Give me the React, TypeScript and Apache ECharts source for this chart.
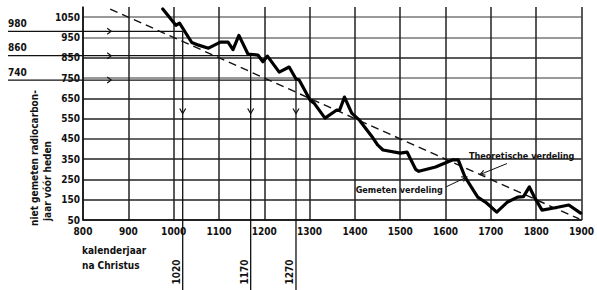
import React, { useEffect, useRef } from "react";
import * as echarts from "echarts";

// ---- data ----
const measuredYears = [976, 1005, 1013, 1040, 1055, 1077, 1103, 1120, 1131, 1144, 1164, 1186, 1197, 1207, 1233, 1255, 1270, 1277, 1301, 1310, 1334, 1360, 1366, 1377, 1393, 1410, 1440, 1450, 1462, 1500, 1515, 1534, 1541, 1578, 1615, 1628, 1643, 1671, 1690, 1713, 1737, 1759, 1772, 1785, 1796, 1813, 1839, 1872, 1898];
const measuredValues = [1090, 1010, 1020, 925, 912, 897, 927, 927, 890, 960, 868, 863, 830, 858, 779, 804, 745, 740, 641, 626, 552, 592, 590, 656, 577, 542, 454, 420, 395, 380, 385, 300, 290, 311, 346, 346, 262, 163, 135, 89, 139, 163, 165, 213, 163, 99, 109, 124, 84];

const theoreticalYears = [860, 1895];
const theoreticalValues = [1090, 55];

const refValues = [980, 860, 740];
const refYears = [1020, 1170, 1270];
const refValueLabels = ["980", "860", "740"];
const refYearLabels = ["1020", "1170", "1270"];

const yTitleLines = ["niet gemeten radiocarbon-", "jaar vóór heden"];
const xTitleLines = ["kalenderjaar", "na Christus"];
const theoryLabel = "Theoretische verdeling";
const measuredLabel = "Gemeten verdeling";
// points where annotation arrows touch the lines
const theoryArrowTip = [1676, 274];
const measuredArrowTip = [1647, 262];

const FONT = '"Liberation Sans Narrow", "DejaVu Sans Condensed", "Arial Narrow", sans-serif';
const INK = "#111";

export default function App() {
  const ref = useRef<HTMLDivElement>(null);

  useEffect(() => {
    const chart = echarts.init(ref.current!, null, { renderer: "svg" });
    const measured = measuredYears.map((y, i) => [y, measuredValues[i]]);
    const theoretical = theoreticalYears.map((y, i) => [y, theoreticalValues[i]]);

    chart.setOption({
      animation: false,
      backgroundColor: "#fff",
      grid: { left: 83, right: 9, top: 7, bottom: 70 },
      xAxis: {
        type: "value",
        min: 800,
        max: 1900,
        interval: 100,
        axisLine: { show: true, onZero: false, lineStyle: { color: INK, width: 1.5 } },
        axisTick: { show: false },
        axisLabel: {
          color: INK,
          fontFamily: FONT,
          fontWeight: "bold",
          fontSize: 10,
          margin: 6,
          formatter: (v: number) => String(v),
        },
        splitLine: { show: true, lineStyle: { color: "#222", width: 1.5 } },
      },
      yAxis: {
        type: "value",
        min: 50,
        max: 1100,
        interval: 100,
        axisLine: { show: true, lineStyle: { color: INK, width: 1.5 } },
        axisTick: { show: false },
        axisLabel: {
          color: INK,
          fontFamily: FONT,
          fontWeight: "bold",
          fontSize: 10,
          margin: 3,
          formatter: (v: number) => (v > 1050 ? "" : String(v)),
        },
        splitLine: {
          show: true,
          showMaxLine: false,
          lineStyle: {
            color: ["#222", "#222", "#222", "#222", "#333", "#222", "#222", "#777", "#222", "#777", "#777", "#fff"],
            width: 1.5,
          },
        },
      },
      series: [
        {
          type: "line",
          data: theoretical,
          symbol: "none",
          clip: false,
          silent: true,
          lineStyle: { color: INK, width: 1.4, type: [8, 5] },
          z: 3,
        },
        {
          type: "line",
          data: measured,
          symbol: "none",
          clip: false,
          silent: true,
          lineStyle: { color: "#000", width: 3.2, join: "round", cap: "round" },
          z: 4,
        },
      ],
    });

    const px = (x: number, y: number) => chart.convertToPixel({ gridIndex: 0 }, [x, y]) as number[];
    const g: any[] = [];
    const lineStyle = { stroke: INK, lineWidth: 1.3 };
    const arrowX = px(860, 50)[0];
    const arrowYDown = px(800, 580)[1];

    refValues.forEach((v, i) => {
      const p = px(refYears[i], v);
      g.push({ type: "line", shape: { x1: 8, y1: p[1], x2: p[0], y2: p[1] }, style: lineStyle, z: 2 });
      g.push({ type: "line", shape: { x1: p[0], y1: p[1], x2: p[0], y2: 295 }, style: lineStyle, z: 2 });
      g.push({
        type: "polyline",
        shape: { points: [[arrowX - 3, p[1] - 3], [arrowX + 1, p[1]], [arrowX - 3, p[1] + 3]] },
        style: { stroke: INK, lineWidth: 1.2, fill: "none" },
        z: 5,
      });
      g.push({
        type: "polyline",
        shape: { points: [[p[0] - 3, arrowYDown - 4], [p[0], arrowYDown + 1], [p[0] + 3, arrowYDown - 4]] },
        style: { stroke: INK, lineWidth: 1.2, fill: "none" },
        z: 5,
      });
      g.push({
        type: "text",
        x: 8,
        y: p[1] - 3,
        style: { text: refValueLabels[i], fill: INK, font: `bold 10px ${FONT}`, textAlign: "left", textVerticalAlign: "bottom" },
        z: 5,
      });
      g.push({
        type: "text",
        x: p[0] - 6,
        y: 272,
        rotation: Math.PI / 2,
        style: { text: refYearLabels[i], fill: INK, font: `bold 10px ${FONT}`, textAlign: "center", textVerticalAlign: "middle" },
        z: 5,
      });
    });

    // axis titles
    g.push({
      type: "text", x: 34, y: 158, rotation: Math.PI / 2,
      style: { text: yTitleLines[0], fill: INK, font: `bold 10px ${FONT}`, textAlign: "center", textVerticalAlign: "middle" },
    });
    g.push({
      type: "text", x: 47, y: 181, rotation: Math.PI / 2,
      style: { text: yTitleLines[1], fill: INK, font: `bold 10px ${FONT}`, textAlign: "center", textVerticalAlign: "middle" },
    });
    g.push({
      type: "text", x: 82, y: 250,
      style: { text: xTitleLines[0], fill: INK, font: `bold 10px ${FONT}`, textAlign: "left", textVerticalAlign: "middle" },
    });
    g.push({
      type: "text", x: 82, y: 265,
      style: { text: xTitleLines[1], fill: INK, font: `bold 10px ${FONT}`, textAlign: "left", textVerticalAlign: "middle" },
    });

    // annotation arrows
    const arrow = (tip: number[], dx: number, dy: number) => {
      const tx = tip[0], ty = tip[1];
      const sx = tx + dx, sy = ty + dy;
      const len = Math.hypot(dx, dy);
      const ux = -dx / len, uy = -dy / len; // direction towards tip
      const bx = tx - ux * 5, by = ty - uy * 5;
      const nx = -uy * 2.5, ny = ux * 2.5;
      g.push({ type: "line", shape: { x1: sx, y1: sy, x2: tx, y2: ty }, style: { stroke: INK, lineWidth: 1 }, z: 6 });
      g.push({
        type: "polyline",
        shape: { points: [[bx + nx, by + ny], [tx, ty], [bx - nx, by - ny]] },
        style: { stroke: INK, lineWidth: 1.1, fill: "none" },
        z: 6,
      });
      return [sx, sy];
    };
    const tTip = px(theoryArrowTip[0], theoryArrowTip[1]);
    const tStart = arrow(tTip, 27, -11);
    g.push({
      type: "text", x: tStart[0] - 38, y: tStart[1] - 8,
      style: { text: theoryLabel, fill: INK, font: `bold 9px ${FONT}`, textAlign: "left", textVerticalAlign: "middle" },
      z: 6,
    });
    const mTip = px(measuredArrowTip[0], measuredArrowTip[1]);
    const mStart = arrow(mTip, -21, 10);
    g.push({
      type: "text", x: mStart[0] - 3, y: mStart[1] + 3,
      style: { text: measuredLabel, fill: INK, font: `bold 9px ${FONT}`, textAlign: "right", textVerticalAlign: "middle" },
      z: 6,
    });

    chart.setOption({ graphic: g });

    return () => chart.dispose();
  }, []);

  return <div ref={ref} style={{ width: 597, height: 290, position: "absolute", left: 0, top: 0 }} />;
}
